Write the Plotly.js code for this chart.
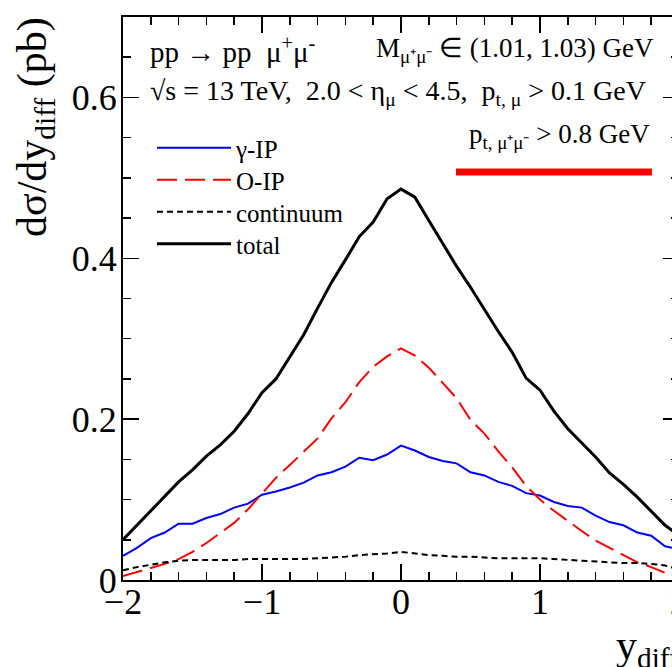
<!DOCTYPE html>
<html>
<head>
<meta charset="utf-8">
<script src="https://cdn.plot.ly/plotly-3.0.1.min.js"></script>
<style>
html,body{margin:0;padding:0;overflow:hidden;background:#fff;width:672px;height:667px;}
#chart{width:700px;height:667px;}
</style>
</head>
<body>
<div id="chart"></div>
<script>
const yDiff = [-2.0,-1.9,-1.8,-1.7,-1.6,-1.5,-1.4,-1.3,-1.2,-1.1,-1.0,-0.9,-0.8,-0.7,-0.6,-0.5,-0.4,-0.3,-0.2,-0.1,0.0,
               0.1,0.2,0.3,0.4,0.5,0.6,0.7,0.8,0.9,1.0,1.1,1.2,1.3,1.4,1.5,1.6,1.7,1.8,1.9,2.0];
const gammaIP = [0.030,0.040,0.052,0.059,0.070,0.070,0.077,0.082,0.090,0.095,0.106,0.110,0.115,0.121,0.130,0.134,0.141,0.152,0.149,0.156,0.167,
                 0.161,0.153,0.148,0.145,0.134,0.130,0.122,0.117,0.108,0.105,0.097,0.092,0.090,0.080,0.072,0.068,0.059,0.055,0.042,0.038];
const oIP = [0.005,0.010,0.015,0.020,0.026,0.035,0.046,0.059,0.071,0.088,0.108,0.127,0.143,0.160,0.176,0.201,0.221,0.246,0.265,0.278,0.288,
             0.279,0.264,0.245,0.226,0.199,0.182,0.160,0.140,0.117,0.100,0.086,0.073,0.061,0.049,0.040,0.030,0.022,0.016,0.009,0.005];
const continuum = [0.012,0.016,0.019,0.022,0.024,0.025,0.025,0.025,0.025,0.026,0.026,0.026,0.026,0.026,0.027,0.028,0.029,0.031,0.032,0.033,0.035,
                   0.033,0.031,0.030,0.029,0.029,0.028,0.027,0.027,0.027,0.027,0.026,0.025,0.024,0.023,0.022,0.021,0.021,0.020,0.018,0.013];
const total = [0.050,0.068,0.085,0.104,0.122,0.137,0.154,0.168,0.185,0.207,0.233,0.250,0.277,0.305,0.338,0.370,0.398,0.427,0.445,0.474,0.486,
               0.476,0.447,0.418,0.390,0.364,0.336,0.309,0.283,0.251,0.236,0.210,0.188,0.170,0.153,0.133,0.119,0.103,0.085,0.068,0.055];
const seriesNames = ["γ-IP","O-IP","continuum","total"];
const xTickVals = [-2,-1,0,1,2];
const yTickVals = [0,0.2,0.4,0.6];

const F = "'Liberation Serif', 'Times New Roman', serif";

const traces = [
  {x:yDiff,y:gammaIP,name:seriesNames[0],mode:"lines",line:{color:"#0000ff",width:2},legend:"legend"},
  {x:yDiff,y:oIP,name:seriesNames[1],mode:"lines",line:{color:"#ff0000",width:2,dash:"20px,8px"},legend:"legend2"},
  {x:yDiff,y:continuum,name:seriesNames[2],mode:"lines",line:{color:"#000000",width:2,dash:"6px,4px"},legend:"legend3"},
  {x:yDiff,y:total,name:seriesNames[3],mode:"lines",line:{color:"#000000",width:3},legend:"legend4"}
];

const W = 556, H = 563; // plot area size in px
function px(p){return (p-123)/W;}
function py(p){return (580-p)/H;}
function leg(yc){
  return {x:px(152),y:py(yc),xanchor:"left",yanchor:"middle",bgcolor:"rgba(0,0,0,0)",
          font:{family:F,size:25,color:"#000"},itemwidth:74};
}

const layout = {
  width:700,height:667,
  margin:{l:123,r:21,t:17,b:87},
  paper_bgcolor:"#fff",plot_bgcolor:"#fff",
  font:{family:F,color:"#000",size:26},
  showlegend:true,
  legend:leg(148),legend2:leg(180),legend3:leg(212),legend4:leg(244),
  xaxis:{range:[-2,2],tickvals:xTickVals,ticks:"inside",ticklen:16,tickwidth:1.5,tickcolor:"#000",
         showline:true,linewidth:2,linecolor:"#000",mirror:"ticks",showgrid:false,zeroline:false,
         tickfont:{family:F,size:36,color:"#000"},ticklabelstandoff:-11,
         minor:{dtick:0.2,ticks:"inside",ticklen:8,tickwidth:1.5,tickcolor:"#000",showgrid:false}},
  yaxis:{range:[0,0.7],tickvals:yTickVals,ticks:"inside",ticklen:16,tickwidth:1.5,tickcolor:"#000",
         showline:true,linewidth:2,linecolor:"#000",mirror:"ticks",showgrid:false,zeroline:false,
         tickfont:{family:F,size:36,color:"#000"},ticklabelstandoff:-3,
         minor:{dtick:0.05,ticks:"inside",ticklen:8,tickwidth:1.5,tickcolor:"#000",showgrid:false}},
  annotations:[
    {xref:"paper",yref:"paper",x:px(35),y:py(15),xanchor:"center",yanchor:"top",textangle:-90,showarrow:false,
     text:"dσ/dy<sub>diff</sub> (pb)",font:{family:F,size:42,color:"#000"}},
    {xref:"paper",yref:"paper",x:px(614),y:py(676),xanchor:"left",yanchor:"bottom",showarrow:false,
     text:"y<sub>diff</sub>",font:{family:F,size:42,color:"#000"}},
    {xref:"paper",yref:"paper",x:px(148),y:py(50),xanchor:"left",yanchor:"middle",showarrow:false,
     text:"pp → pp  μ<sup>+</sup>μ<sup>-</sup>",font:{family:F,size:29,color:"#000"}},
    {xref:"paper",yref:"paper",x:px(656),y:py(50),xanchor:"right",yanchor:"middle",showarrow:false,
     text:"M<sub>μ⁺μ⁻</sub> ∈ (1.01, 1.03) GeV",font:{family:F,size:27,color:"#000"}},
    {xref:"paper",yref:"paper",x:px(148),y:py(92),xanchor:"left",yanchor:"middle",showarrow:false,
     text:"√s = 13 TeV,  2.0 < η<sub>μ</sub> < 4.5,  p<sub>t, μ</sub> > 0.1 GeV",font:{family:F,size:28,color:"#000"}},
    {xref:"paper",yref:"paper",x:px(652),y:py(136),xanchor:"right",yanchor:"middle",showarrow:false,
     text:"p<sub>t, μ⁺μ⁻</sub> > 0.8 GeV",font:{family:F,size:27,color:"#000"}}
  ],
  shapes:[
    {type:"line",xref:"paper",yref:"paper",x0:px(456),x1:px(652),y0:py(172),y1:py(172),line:{color:"#ff0000",width:7}}
  ]
};

Plotly.newPlot("chart",traces,layout,{displayModeBar:false,staticPlot:true});
</script>
</body>
</html>
